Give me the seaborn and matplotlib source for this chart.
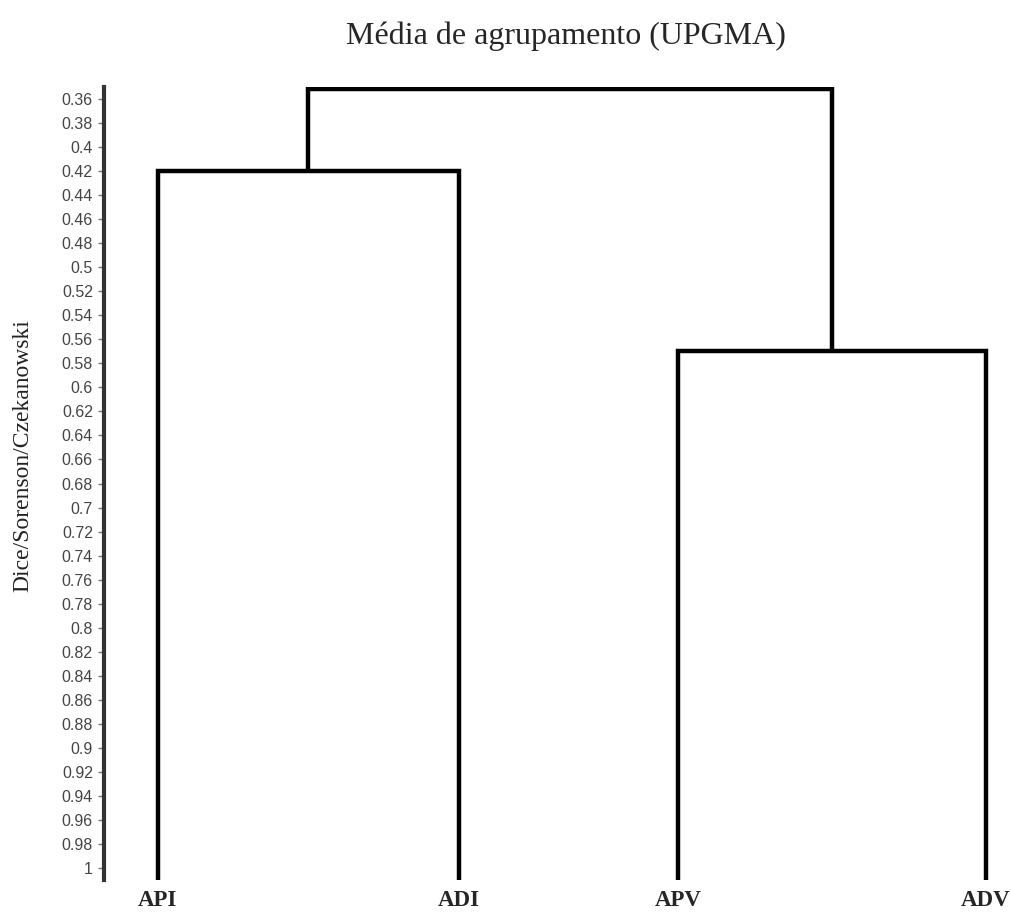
import matplotlib
matplotlib.use("Agg")
import matplotlib.pyplot as plt
import seaborn as sns
import numpy as np

# ---- data ----
leaves = ["API", "ADI", "APV", "ADV"]
leaf_positions = [0.0, 1.0, 1.73, 2.75]
# merges: (left child, right child, height); children >= 4 refer to earlier merges
merge_left = [0, 2, 4]
merge_right = [1, 3, 5]
merge_height = [0.42, 0.57, 0.352]
leaf_base = 1.01
ytick_values = [round(0.36 + 0.02 * i, 2) for i in range(33)]
title = "Média de agrupamento (UPGMA)"
ylabel = "Dice/Sorenson/Czekanowski"

sns.set_style("white")
plt.rcParams['font.family'] = ['Liberation Sans', 'DejaVu Sans']

fig = plt.figure(figsize=(10.12, 9.13), dpi=100)
ax = fig.add_axes([0.1028, 0.0361, 0.8972, 0.8686])

# node positions
node_x = list(leaf_positions)
node_y = [leaf_base] * len(leaves)
lw = 3.2
for l, r, h in zip(merge_left, merge_right, merge_height):
    xs = [node_x[l], node_x[l], node_x[r], node_x[r]]
    ys = [node_y[l], h, h, node_y[r]]
    sns.lineplot(x=xs, y=ys, sort=False, ax=ax, color="black", lw=lw,
                 estimator=None, solid_joinstyle="miter", solid_capstyle="butt")
    node_x.append((node_x[l] + node_x[r]) / 2)
    node_y.append(h)

ax.set_xlim(-0.178, 2.838)
ax.set_ylim(leaf_base, 0.35)

ax.set_yticks(ytick_values)
ax.set_yticklabels([f"{v:g}" for v in ytick_values], fontsize=11.5, color="#444444",
                   family=['Liberation Sans'])
ax.tick_params(axis="y", left=True, length=4, width=1, color="#777777", pad=4)

ax.set_xticks(leaf_positions)
ax.set_xticklabels(leaves, fontsize=16.5, fontweight="bold", family=['Liberation Serif'])
ax.tick_params(axis="x", bottom=False, pad=4)

for s in ["top", "right", "bottom"]:
    ax.spines[s].set_visible(False)
ax.spines["left"].set_linewidth(3)
ax.spines["left"].set_color("#333333")

ax.set_ylabel(ylabel, fontsize=17, family=['Liberation Serif'], color="#222222")
ax.yaxis.set_label_coords(-0.078, 0.535)
fig.text(0.559, 0.952, title, fontsize=23, family=['Liberation Serif'],
         ha="center", va="baseline")
ax.grid(False)

fig.savefig("out.png", dpi=100)
